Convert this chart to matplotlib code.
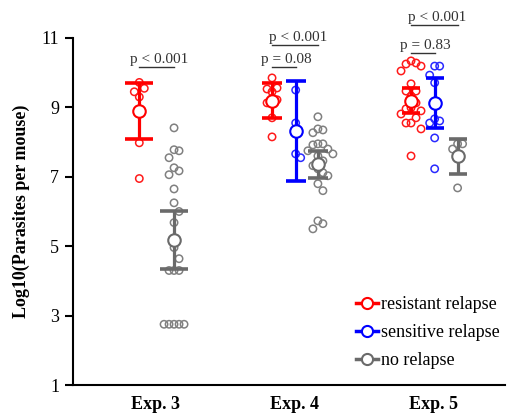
import numpy as np
import matplotlib
matplotlib.use("Agg")
import matplotlib.pyplot as plt
from matplotlib.lines import Line2D

plt.rcParams['font.family'] = ['Liberation Serif', 'DejaVu Serif']

# --- values ---
experiments = ['Exp. 3', 'Exp. 4', 'Exp. 5']
groups = ['resistant relapse', 'sensitive relapse', 'no relapse']

exp3_resistant = [9.72, 9.55, 9.45, 9.30, 7.98, 6.95]
exp3_none = [8.41, 7.78, 7.75, 7.55, 7.26, 7.17, 7.06, 6.65, 6.25, 6.00, 5.68,
             4.96, 4.64, 4.30, 4.30, 4.30, 2.75, 2.75, 2.75, 2.75, 2.75]
exp4_resistant = [9.85, 9.56, 9.53, 9.45, 9.22, 9.13, 8.70, 8.15]
exp4_sensitive = [9.50, 8.55, 7.66, 7.55]
exp4_none = [8.73, 8.38, 8.35, 8.27, 7.95, 7.95, 7.92, 7.80, 7.75, 7.66, 7.60,
             7.46, 7.32, 7.23, 7.12, 7.03, 6.80, 6.60, 5.73, 5.65, 5.50]
exp5_resistant = [10.34, 10.28, 10.25, 10.19, 10.05, 9.68, 9.47, 9.47, 9.33, 9.13,
                  8.99, 8.96, 8.90, 8.81, 8.70, 8.55, 8.55, 8.38, 7.60]
exp5_sensitive = [10.19, 10.19, 9.93, 9.71, 8.67, 8.61, 8.55, 8.12, 7.23]
exp5_none = [7.95, 7.95, 7.80, 6.68]

# mean, lower, upper of the error bars
exp3_stats = {'resistant relapse': (8.90, 8.10, 9.71), 'no relapse': (5.19, 4.35, 6.02)}
exp4_stats = {'resistant relapse': (9.19, 8.70, 9.71), 'sensitive relapse': (8.32, 6.88, 9.76),
              'no relapse': (7.37, 6.97, 7.75)}
exp5_stats = {'resistant relapse': (9.19, 8.84, 9.56), 'sensitive relapse': (9.12, 8.41, 9.85),
              'no relapse': (7.60, 7.09, 8.10)}

# comparisons: (experiment index, group a, group b, label, bracket height)
pvalues = [(0, 'resistant relapse', 'no relapse', 'p < 0.001', 10.16),
           (1, 'resistant relapse', 'no relapse', 'p < 0.001', 10.80),
           (1, 'resistant relapse', 'sensitive relapse', 'p = 0.08', 10.16),
           (2, 'resistant relapse', 'no relapse', 'p < 0.001', 11.37),
           (2, 'resistant relapse', 'sensitive relapse', 'p = 0.83', 10.57)]

points = [{'resistant relapse': exp3_resistant, 'no relapse': exp3_none},
          {'resistant relapse': exp4_resistant, 'sensitive relapse': exp4_sensitive, 'no relapse': exp4_none},
          {'resistant relapse': exp5_resistant, 'sensitive relapse': exp5_sensitive, 'no relapse': exp5_none}]
stats = [exp3_stats, exp4_stats, exp5_stats]

# --- style / layout ---
colors = {'resistant relapse': '#ff0000', 'sensitive relapse': '#0000ff', 'no relapse': '#6a6a6a'}
point_colors = {'resistant relapse': '#ff1a1a', 'sensitive relapse': '#2a2aff', 'no relapse': '#808080'}
offsets = [{'resistant relapse': -0.12, 'no relapse': 0.13},
           {'resistant relapse': -0.165, 'sensitive relapse': 0.005, 'no relapse': 0.165},
           {'resistant relapse': -0.165, 'sensitive relapse': 0.005, 'no relapse': 0.17}]
capsizes = [10, 7, 6.5]


def swarm(vals, d, py, yscale=0.45):
    # deterministic beeswarm in pixels; vertical gaps count less so points spread sideways
    placed = []
    offs = []
    for v in vals:
        y = v * py
        k = 0
        while True:
            step = (k + 1) // 2
            c = step * d * (1 if k % 2 == 1 else -1) if k else 0.0
            if all((c - xo) ** 2 + ((y - yo) * yscale) ** 2 >= d ** 2 for xo, yo in placed):
                break
            k += 1
        placed.append((c, y))
        offs.append(c)
    return offs


fig = plt.figure(figsize=(5.15, 4.19), dpi=100)
ax = fig.add_axes([73 / 515, 34 / 419, 432 / 515, 347 / 419])
ax.set_xlim(-0.597, 2.511)
ax.set_ylim(1, 11)

fig.canvas.draw()
px_x = ax.transData.transform((1, 0))[0] - ax.transData.transform((0, 0))[0]
px_y = ax.transData.transform((0, 1))[1] - ax.transData.transform((0, 0))[1]

for i in range(len(experiments)):
    for g, vals in points[i].items():
        xc = i + offsets[i][g]
        offs = swarm(vals, 5.0, px_y)
        ax.scatter(xc + np.array(offs) / px_x, vals, s=28, facecolors='none',
                   edgecolors=point_colors[g], linewidths=1.1, zorder=2)
        m, lo, hi = stats[i][g]
        ax.errorbar([xc], [m], yerr=[[m - lo], [hi - m]], fmt='none', ecolor=colors[g],
                    elinewidth=2.3, capsize=capsizes[i], capthick=2.6, zorder=3)
        ax.plot([xc], [m], marker='o', ms=9, mfc='white', mec=colors[g], mew=1.5,
                zorder=4, linestyle='none')

for i, ga, gb, label, yl in pvalues:
    xa = i + offsets[i][ga]
    xb = i + offsets[i][gb]
    ax.plot([xa, xb], [yl, yl], color='#333333', lw=1.0, clip_on=False, zorder=5)
    ax.text((xa + xb) / 2 + 0.02, yl + 0.03, label, ha='center', va='bottom',
            fontsize=11, color='#333333', clip_on=False)

ax.set_yticks([1, 3, 5, 7, 9, 11])
ax.set_xticks(range(len(experiments)))
ax.set_xticklabels(experiments, fontweight='bold', fontsize=13)
ax.tick_params(axis='y', labelsize=13, length=6, width=1.5, direction='out', pad=4)
ax.tick_params(axis='x', length=0, pad=8)
ax.set_ylabel('Log10(Parasites per mouse)', fontweight='bold', fontsize=13, labelpad=8)

for s in ['top', 'right']:
    ax.spines[s].set_visible(False)
for s in ['left', 'bottom']:
    ax.spines[s].set_linewidth(1.5)

handles = [Line2D([], [], color=colors[g], marker='o', mfc='white', mec=colors[g],
                  ms=8, mew=1.5, lw=2.5) for g in groups]
ax.legend(handles, groups, loc='upper left', bbox_to_anchor=(0.655, 0.257),
          frameon=False, fontsize=13, handlelength=1.2, handletextpad=0.2,
          labelspacing=0.62, borderpad=0, borderaxespad=0)

fig.savefig('out.png', dpi=100)
